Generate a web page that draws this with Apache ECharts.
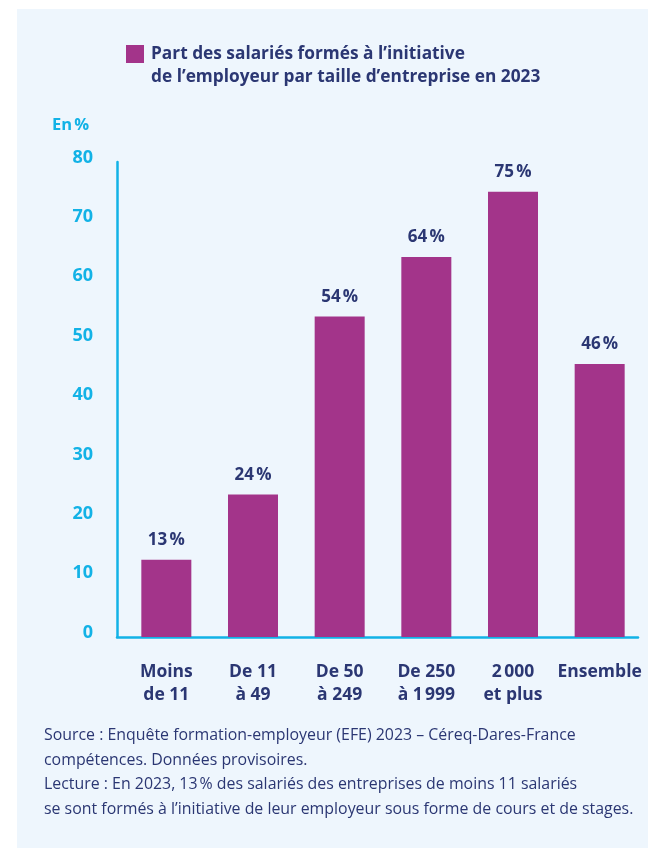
<!DOCTYPE html>
<html>
<head>
<meta charset="utf-8">
<script src="https://cdn.jsdelivr.net/npm/echarts@6/dist/echarts.min.js"></script>
<style>
html,body{margin:0;padding:0;background:#fff;}
#panel{position:absolute;left:17px;top:9px;width:631px;height:839px;background:#EEF6FD;}
#chart{position:absolute;left:0;top:0;width:648px;height:848px;}
</style>
</head>
<body>
<div id="panel"></div>
<div id="chart"></div>
<script>
const categories = ["Moins\nde 11", "De 11\nà 49", "De 50\nà 249", "De 250\nà 1\u202F999", "2\u202F000\net plus", "Ensemble"];
const values = [13, 24, 54, 64, 75, 46];
const valueLabels = ["13\u202F%", "24\u202F%", "54\u202F%", "64\u202F%", "75\u202F%", "46\u202F%"];
const yTicks = [0, 10, 20, 30, 40, 50, 60, 70, 80];
const seriesName = "Part des salariés formés à l’initiative";
const seriesName2 = "de l’employeur par taille d’entreprise en 2023";
const unitLabel = "En\u202F%";
const footnote = [
  "Source : Enquête formation-employeur (EFE) 2023 – Céreq-Dares-France",
  "compétences. Données provisoires.",
  "Lecture : En 2023, 13\u202F% des salariés des entreprises de moins 11 salariés",
  "se sont formés à l’initiative de leur employeur sous forme de cours et de stages."
];

const NAVY = "#2B3773";
const CYAN = "#12B2E6";
const BAR = "#A3348A";
const FONT = "Open Sans";

const chart = echarts.init(document.getElementById('chart'), null, {renderer: 'canvas'});
chart.setOption({
  backgroundColor: 'transparent',
  textStyle: {fontFamily: FONT},
  animation: false,
  title: [
    {text: seriesName2, left: 151, top: 69, padding: 0, textStyle: {fontFamily: FONT, fontSize: 17.3, fontWeight: 'bold', color: NAVY}},
    {text: unitLabel, left: 52, top: 117, padding: 0, textStyle: {fontFamily: FONT, fontSize: 16.5, fontWeight: 'bold', color: CYAN}},
    {text: footnote.join("\n"), left: 44, top: 723, padding: 0, textStyle: {fontFamily: FONT, fontSize: 15.9, fontWeight: 'normal', color: NAVY, lineHeight: 24.7}}
  ],
  legend: {
    left: 126, top: 45, padding: 0, itemWidth: 18, itemHeight: 18, icon: 'rect',
    data: [seriesName],
    textStyle: {fontFamily: FONT, fontSize: 17.3, fontWeight: 'bold', color: NAVY, padding: [0,0,0,2]}
  },
  grid: [
    {left: 123, width: 520, top: 162, height: 475, containLabel: false},
    {left: 117, width: 521, top: 162, height: 475, containLabel: false}
  ],
  xAxis: [
    {type: 'category', gridIndex: 0, data: categories,
     axisLine: {show: false}, axisTick: {show: false},
     axisLabel: {margin: 23, color: NAVY, fontFamily: FONT, fontSize: 17.5, fontWeight: 'bold', lineHeight: 23.5, interval: 0}},
    {type: 'category', gridIndex: 1, data: categories,
     axisLine: {show: true, lineStyle: {color: CYAN, width: 2.5}}, axisTick: {show: false}, axisLabel: {show: false}}
  ],
  yAxis: [
    {type: 'value', gridIndex: 0, min: yTicks[0], max: yTicks[yTicks.length-1], interval: 10,
     axisLine: {show: false}, axisTick: {show: false}, splitLine: {show: false},
     axisLabel: {margin: 30, color: CYAN, fontFamily: FONT, fontSize: 18, fontWeight: 'bold', verticalAlign: 'bottom', lineHeight: 9}},
    {type: 'value', gridIndex: 1, min: yTicks[0], max: yTicks[yTicks.length-1], interval: 10,
     axisLine: {show: true, lineStyle: {color: CYAN, width: 2.5}}, axisTick: {show: false}, splitLine: {show: false}, axisLabel: {show: false}}
  ],
  series: [{
    name: seriesName, type: 'bar', xAxisIndex: 0, yAxisIndex: 0,
    data: values, barWidth: 50, itemStyle: {color: BAR},
    label: {show: true, position: 'top', distance: 11, color: NAVY, fontFamily: FONT, fontSize: 17, fontWeight: 'bold',
      formatter: p => valueLabels[p.dataIndex]}
  }]
});
</script>
</body>
</html>
